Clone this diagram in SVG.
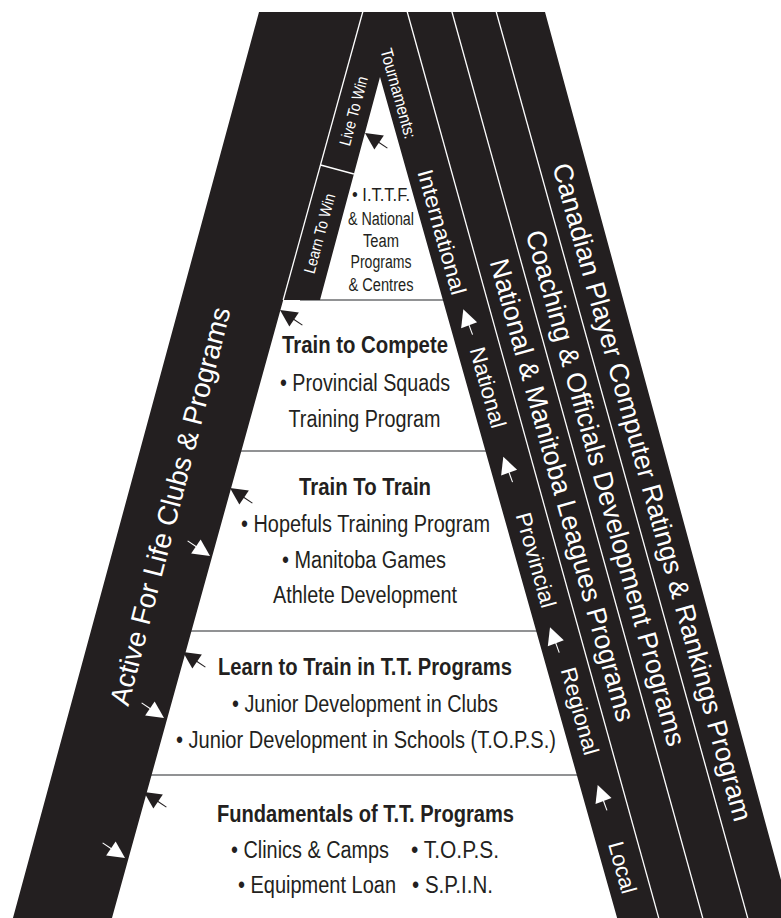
<svg xmlns="http://www.w3.org/2000/svg" width="781" height="918" viewBox="0 0 781 918">
<style>
  .blk{fill:#231f20}
  .wl{stroke:#fff;stroke-width:1.3;fill:none}
  .gl{stroke:#6d6e71;stroke-width:1.6}
  text{font-family:"Liberation Sans",Arial,Helvetica,sans-serif}
  .c{fill:#231f20;font-size:23px;text-anchor:middle}
  .s{fill:#231f20;font-size:23px;text-anchor:start}
  .t{fill:#231f20;font-size:18px;text-anchor:middle}
  .b{font-weight:bold}
  .w{fill:#fff;text-anchor:middle}
  .ab{fill:#231f20;stroke:#231f20;stroke-width:1.1}
  .aw{fill:#fff;stroke:#fff;stroke-width:1.1}
</style>
<defs>
  <g id="arr"><path d="M0,0 L-17,-8.5 L-17,8.5 Z" stroke="none"/><line x1="-16" y1="0" x2="-27" y2="0"/></g>
</defs>
<rect width="781" height="918" fill="#fff"/>

<g id="level-dividers">
  <line class="gl" x1="300" y1="300" x2="460" y2="300"/>
  <line class="gl" x1="230" y1="451" x2="500" y2="451"/>
  <line class="gl" x1="180" y1="631" x2="550" y2="631"/>
  <line class="gl" x1="140" y1="775" x2="590" y2="775"/>
</g>

<g id="bands">
  <polygon class="blk" points="259,12 545,12 791.6,919 617.4,919 380,77 320,300 283.2,300 111.7,919 12.7,919"/>
  <line class="wl" x1="363" y1="11" x2="283.2" y2="300"/>
  <line class="wl" x1="320.6" y1="165" x2="353.9" y2="174"/>
  <line class="wl" x1="407" y1="11" x2="659" y2="919"/>
  <line class="wl" x1="451.7" y1="11" x2="703" y2="919"/>
  <line class="wl" x1="496" y1="11" x2="748" y2="919"/>
</g>

<g id="active-for-life">
  <text class="w" font-size="28" textLength="410" lengthAdjust="spacingAndGlyphs" dy="0.35em" transform="translate(170,506) rotate(-75.5)">Active For Life Clubs &amp; Programs</text>
</g>
<g id="live-to-win">
  <text class="w" font-size="16" textLength="71" lengthAdjust="spacingAndGlyphs" dy="0.35em" transform="translate(353.5,111) rotate(-75)">Live To Win</text>
</g>
<g id="learn-to-win">
  <text class="w" font-size="16" textLength="82" lengthAdjust="spacingAndGlyphs" dy="0.35em" transform="translate(319.5,233.5) rotate(-75)">Learn To Win</text>
</g>

<g id="tournaments">
  <text class="w" font-size="17" textLength="93" lengthAdjust="spacingAndGlyphs" dy="0.35em" transform="translate(398.5,93.5) rotate(74.4)">Tournaments:</text>
  <text class="w" font-size="22" textLength="129" lengthAdjust="spacingAndGlyphs" dy="0.35em" transform="translate(442,232) rotate(74.4)">International</text>
  <text class="w" font-size="22" textLength="83" lengthAdjust="spacingAndGlyphs" dy="0.35em" transform="translate(488,387.5) rotate(74.4)">National</text>
  <text class="w" font-size="22" textLength="98" lengthAdjust="spacingAndGlyphs" dy="0.35em" transform="translate(536,560) rotate(74.4)">Provincial</text>
  <text class="w" font-size="22" textLength="90" lengthAdjust="spacingAndGlyphs" dy="0.35em" transform="translate(580,711) rotate(74.4)">Regional</text>
  <text class="w" font-size="22" textLength="53" lengthAdjust="spacingAndGlyphs" dy="0.35em" transform="translate(622.5,867.5) rotate(74.4)">Local</text>
</g>
<g id="leagues">
  <text class="w" font-size="27" dy="0.35em" transform="translate(562.5,490) rotate(74.5)">National &amp; Manitoba Leagues Programs</text>
</g>
<g id="coaching">
  <text class="w" font-size="27" dy="0.35em" transform="translate(606,488) rotate(74.5)">Coaching &amp; Officials Development Programs</text>
</g>
<g id="ratings">
  <text class="w" font-size="27" dy="0.35em" transform="translate(652.5,492) rotate(74.5)">Canadian Player Computer Ratings &amp; Rankings Program</text>
</g>

<g id="ittf">
  <text class="t" x="381" y="201" textLength="58" lengthAdjust="spacingAndGlyphs">• I.T.T.F.</text>
  <text class="t" x="381" y="225" textLength="66" lengthAdjust="spacingAndGlyphs">&amp; National</text>
  <text class="t" x="381" y="247" textLength="36" lengthAdjust="spacingAndGlyphs">Team</text>
  <text class="t" x="381" y="268" textLength="61" lengthAdjust="spacingAndGlyphs">Programs</text>
  <text class="t" x="381" y="291" textLength="65" lengthAdjust="spacingAndGlyphs">&amp; Centres</text>
</g>
<g id="train-to-compete">
  <text class="c b" x="365" y="353" textLength="166" lengthAdjust="spacingAndGlyphs">Train to Compete</text>
  <text class="c" x="365" y="391" textLength="170" lengthAdjust="spacingAndGlyphs">• Provincial Squads</text>
  <text class="c" x="364.5" y="427" textLength="152" lengthAdjust="spacingAndGlyphs">Training Program</text>
</g>
<g id="train-to-train">
  <text class="c b" x="365" y="495" textLength="132" lengthAdjust="spacingAndGlyphs">Train To Train</text>
  <text class="c" x="365.5" y="532" textLength="249" lengthAdjust="spacingAndGlyphs">• Hopefuls Training Program</text>
  <text class="c" x="364" y="568" textLength="164" lengthAdjust="spacingAndGlyphs">• Manitoba Games</text>
  <text class="c" x="365" y="603" textLength="184" lengthAdjust="spacingAndGlyphs">Athlete Development</text>
</g>
<g id="learn-to-train">
  <text class="c b" x="365" y="675" textLength="294" lengthAdjust="spacingAndGlyphs">Learn to Train in T.T. Programs</text>
  <text class="c" x="365" y="712" textLength="266" lengthAdjust="spacingAndGlyphs">• Junior Development in Clubs</text>
  <text class="c" x="366" y="748" textLength="380" lengthAdjust="spacingAndGlyphs">• Junior Development in Schools (T.O.P.S.)</text>
</g>
<g id="fundamentals">
  <text class="c b" x="365.5" y="822" textLength="297" lengthAdjust="spacingAndGlyphs">Fundamentals of T.T. Programs</text>
  <text class="s" x="231" y="858" textLength="158" lengthAdjust="spacingAndGlyphs">• Clinics &amp; Camps</text>
  <text class="s" x="411" y="858" textLength="88" lengthAdjust="spacingAndGlyphs">• T.O.P.S.</text>
  <text class="s" x="238" y="893" textLength="158" lengthAdjust="spacingAndGlyphs">• Equipment Loan</text>
  <text class="s" x="412" y="893" textLength="81" lengthAdjust="spacingAndGlyphs">• S.P.I.N.</text>
</g>

<g id="connectors">
  <use href="#arr" class="ab" transform="translate(365,133) rotate(214)"/>
  <use href="#arr" class="ab" transform="translate(280,310) rotate(214)"/>
  <use href="#arr" class="ab" transform="translate(230,488) rotate(214)"/>
  <use href="#arr" class="ab" transform="translate(183,652) rotate(214)"/>
  <use href="#arr" class="ab" transform="translate(144,792) rotate(214)"/>
  <use href="#arr" class="aw" transform="translate(210,556) rotate(34)"/>
  <use href="#arr" class="aw" transform="translate(164,718) rotate(34)"/>
  <use href="#arr" class="aw" transform="translate(125,858) rotate(34)"/>
  <use href="#arr" class="aw" transform="translate(463.3,309.3) rotate(250)"/>
  <use href="#arr" class="aw" transform="translate(503.3,456.7) rotate(250)"/>
  <use href="#arr" class="aw" transform="translate(550,627.3) rotate(250)"/>
  <use href="#arr" class="aw" transform="translate(597.7,785) rotate(250)"/>
</g>
</svg>
